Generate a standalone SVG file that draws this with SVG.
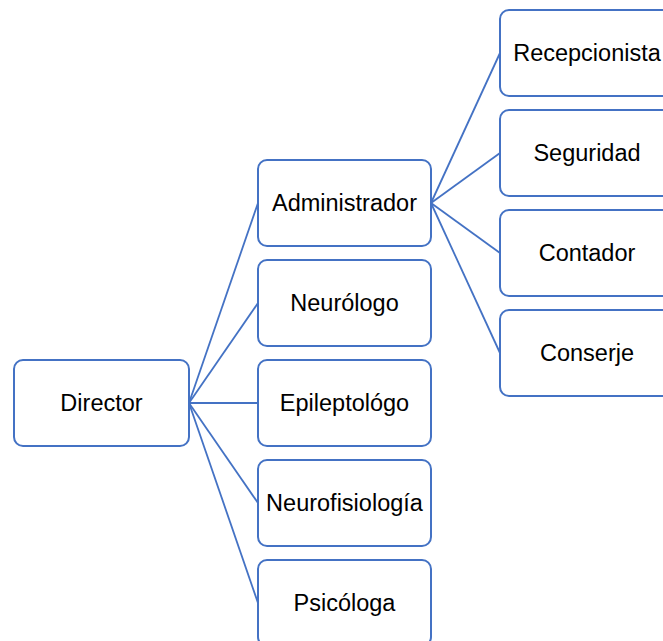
<svg xmlns="http://www.w3.org/2000/svg" width="663" height="641" viewBox="0 0 663 641">
<style>
.box{fill:#fff;stroke:#4472C4;stroke-width:2}
.lbl{font-family:"Liberation Sans",Arial,sans-serif;font-size:23.5px;fill:#000;text-anchor:middle}
.con line{stroke:#4472C4;stroke-width:1.8;fill:none}
</style>
<rect width="663" height="641" fill="#fff"/>
<g class="con" id="connectors">
<line x1="189" y1="403" x2="258" y2="203"/>
<line x1="189" y1="403" x2="258" y2="303"/>
<line x1="189" y1="403" x2="258" y2="403"/>
<line x1="189" y1="403" x2="258" y2="503"/>
<line x1="189" y1="403" x2="258" y2="603"/>
<line x1="431" y1="203" x2="500" y2="53"/>
<line x1="431" y1="203" x2="500" y2="153"/>
<line x1="431" y1="203" x2="500" y2="253"/>
<line x1="431" y1="203" x2="500" y2="353"/>
</g>
<g id="director"><rect class="box" x="14" y="360" width="175" height="86" rx="9"/><text class="lbl" x="101.5" y="411">Director</text></g>
<g id="administrador"><rect class="box" x="258" y="160" width="173" height="86" rx="9"/><text class="lbl" x="344.5" y="211">Administrador</text></g>
<g id="neurologo"><rect class="box" x="258" y="260" width="173" height="86" rx="9"/><text class="lbl" x="344.5" y="311">Neurólogo</text></g>
<g id="epileptologo"><rect class="box" x="258" y="360" width="173" height="86" rx="9"/><text class="lbl" x="344.5" y="411">Epileptológo</text></g>
<g id="neurofisiologia"><rect class="box" x="258" y="460" width="173" height="86" rx="9"/><text class="lbl" x="344.5" y="511">Neurofisiología</text></g>
<g id="psicologa"><rect class="box" x="258" y="560" width="173" height="86" rx="9"/><text class="lbl" x="344.5" y="611">Psicóloga</text></g>
<g id="recepcionista"><rect class="box" x="500" y="10" width="174" height="86" rx="9"/><text class="lbl" x="587" y="61">Recepcionista</text></g>
<g id="seguridad"><rect class="box" x="500" y="110" width="174" height="86" rx="9"/><text class="lbl" x="587" y="161">Seguridad</text></g>
<g id="contador"><rect class="box" x="500" y="210" width="174" height="86" rx="9"/><text class="lbl" x="587" y="261">Contador</text></g>
<g id="conserje"><rect class="box" x="500" y="310" width="174" height="86" rx="9"/><text class="lbl" x="587" y="361">Conserje</text></g>
</svg>
